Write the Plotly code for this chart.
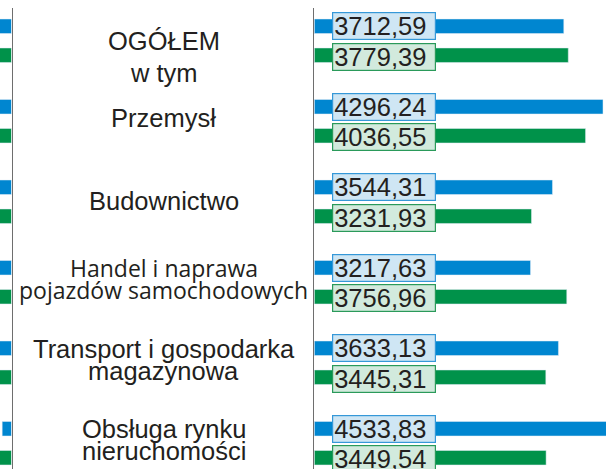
import plotly.graph_objects as go

# ---------------- data ----------------
categories = ["OGÓŁEM", "Przemysł", "Budownictwo",
              "Handel i naprawa pojazdów samochodowych",
              "Transport i gospodarka magazynowa",
              "Obsługa rynku nieruchomości"]
blue_values = [3712.59, 4296.24, 3544.31, 3217.63, 3633.13, 4533.83]
green_values = [3779.39, 4036.55, 3231.93, 3756.96, 3445.31, 3449.54]

# neighbouring (cut-off) panel on the left: only short stubs are visible
left_blue = [130, 130, 130, 130, 130, 81]
left_green = [130, 130, 130, 130, 130, 130]

label_lines = [["OGÓŁEM", "w tym"], ["Przemysł"], ["Budownictwo"],
               ["Handel i naprawa", "pojazdów samochodowych"],
               ["Transport i gospodarka", "magazynowa"],
               ["Obsługa rynku", "nieruchomości"]]

# ---------------- styles ----------------
BLUE = "#0086d0"
GREEN = "#00924a"
BLUE_BOX = "#cfe6f4"
GREEN_BOX = "#d2eadd"
BLUE_EDGE = "#3598d8"
GREEN_EDGE = "#2a9a5a"
TXT = "#231f20"
AXIS = "#6e6e6e"
W, H = 606, 469

label_offsets = [[0.5, 32], [-3.75], [-0.75], [-14, 7.5], [-13.8, 8.5], [-13.8, 8.2]]
label_fonts = ["Liberation Sans, Arial, sans-serif"] * 3 + ["Open Sans, sans-serif"] + ["Liberation Sans, Arial, sans-serif"] * 2
label_sizes = [25.5, 25.5, 25.5, 23, 25.5, 25.5]

fig = go.Figure()
fig.add_trace(go.Bar(y=categories, x=blue_values, orientation="h", marker_color=BLUE,
                     xaxis="x", yaxis="y", showlegend=False, hoverinfo="skip"))
fig.add_trace(go.Bar(y=categories, x=green_values, orientation="h", marker_color=GREEN,
                     xaxis="x", yaxis="y", showlegend=False, hoverinfo="skip"))
fig.add_trace(go.Bar(y=categories, x=left_blue, orientation="h", marker_color=BLUE,
                     xaxis="x2", yaxis="y2", showlegend=False, hoverinfo="skip"))
fig.add_trace(go.Bar(y=categories, x=left_green, orientation="h", marker_color=GREEN,
                     xaxis="x2", yaxis="y2", showlegend=False, hoverinfo="skip"))

def fmt(v):
    return f"{v:.2f}".replace(".", ",")

ann = []
for cat, bv, gv in zip(categories, blue_values, green_values):
    for v, shift, fill, edge in [(bv, 14.3, BLUE_BOX, BLUE_EDGE), (gv, -16, GREEN_BOX, GREEN_EDGE)]:
        ann.append(dict(xref="x", yref="y", x=0, y=cat, xanchor="left", yanchor="middle",
                        xshift=18, yshift=shift, text=fmt(v), showarrow=False,
                        font=dict(family="Liberation Sans, Arial, sans-serif", size=25.5, color=TXT),
                        bgcolor=fill, bordercolor=edge, borderwidth=1.2, borderpad=1,
                        width=100, height=24, align="left"))

for cat, lines, offs, fam, sz in zip(categories, label_lines, label_offsets, label_fonts, label_sizes):
    for line, off in zip(lines, offs):
        ann.append(dict(xref="paper", yref="y", x=163.5 / W, y=cat, xanchor="center",
                        yanchor="middle", yshift=-off, text=line, showarrow=False,
                        font=dict(family=fam, size=sz, color=TXT), borderpad=0))

left_end = 11.5 / W
right_start = 314.3 / W
fig.update_layout(
    width=W, height=H, margin=dict(l=0, r=0, t=8, b=0),
    paper_bgcolor="white", plot_bgcolor="white",
    barmode="group", bargap=0.28, bargroupgap=0.5,
    xaxis=dict(domain=[right_start, 1], range=[0, (W - 314.3) / 0.0672],
               showgrid=False, zeroline=False, showticklabels=False, showline=False, ticks=""),
    yaxis=dict(anchor="x", range=[5.3199, -0.4068], showgrid=False, zeroline=False,
               showticklabels=False, ticks="", showline=True, linecolor=AXIS, linewidth=1.3),
    xaxis2=dict(domain=[0, left_end], range=[100, 0], showgrid=False, zeroline=False,
                showticklabels=False, showline=False, ticks=""),
    yaxis2=dict(anchor="x2", side="right", matches="y", showgrid=False, zeroline=False,
                showticklabels=False, ticks="", showline=True, linecolor=AXIS, linewidth=1.3),
    annotations=ann,
)

fig.write_html("out.html", config={"displayModeBar": False},
               post_script="document.body.style.margin='0px';")
